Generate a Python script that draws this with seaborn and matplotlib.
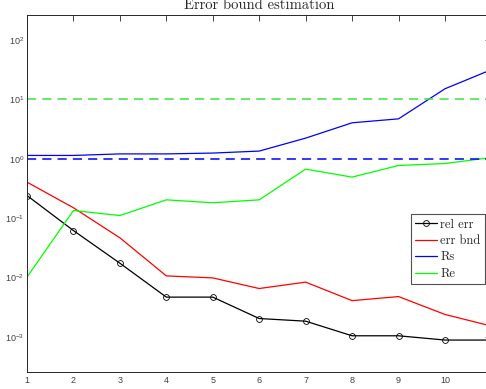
import numpy as np
import pandas as pd
import matplotlib
matplotlib.use("Agg")
import matplotlib.pyplot as plt
import seaborn as sns
from matplotlib.ticker import LogLocator, FixedLocator

# Iteration index and per-iteration quantities
iterations = [1, 2, 3, 4, 5, 6, 7, 8, 9, 10, 11]
rel_err = [0.241, 0.062, 0.0175, 0.0047, 0.0047, 0.00205, 0.00185, 0.00105, 0.00105, 0.00089, 0.00089]
err_bnd = [0.405, 0.15, 0.0468, 0.0107, 0.0099, 0.00656, 0.0084, 0.0041, 0.0048, 0.0024, 0.00153]
rs_vals = [1.14, 1.14, 1.21, 1.21, 1.25, 1.35, 2.23, 4.04, 4.71, 15.1, 31.7]
re_vals = [0.0102, 0.135, 0.111, 0.204, 0.182, 0.204, 0.671, 0.492, 0.772, 0.834, 1.05]

# Reference levels
rs_level = 1.0
re_level = 10.0

series_names = ["rel err", "err bnd", "Rs", "Re"]
series_colors = ["#000000", "#ff0000", "#0000ff", "#00ff00"]
x_ticks = [1, 2, 3, 4, 5, 6, 7, 8, 9, 10]

sns.set_style("white")
plt.rcParams["font.family"] = ["Liberation Sans", "DejaVu Sans"]
plt.rcParams["mathtext.fontset"] = "custom"
plt.rcParams["mathtext.rm"] = "Liberation Sans"

W, H = 486, 389
fig = plt.figure(figsize=(W / 100, H / 100), dpi=100)
ax = fig.add_axes([27 / W, 1 - 372 / H, (491.4 - 27) / W, (372 - 15) / H])

df = pd.DataFrame({
    "x": iterations * 4,
    "y": rel_err + err_bnd + rs_vals + re_vals,
    "series": sum([[n] * len(iterations) for n in series_names], []),
})

for name, color in zip(series_names, series_colors):
    sub = df[df["series"] == name]
    kw = dict(marker="o", markersize=4.2, markerfacecolor="none",
              markeredgecolor=color, markeredgewidth=0.6) if name == "rel err" else {}
    sns.lineplot(data=sub, x="x", y="y", ax=ax, color=color, linewidth=0.9,
                 label=name, **kw)

ax.axhline(rs_level, color="#0000ff", linestyle=(0, (6, 4)), linewidth=1.1)
ax.axhline(re_level, color="#40e040", linestyle=(0, (6, 4)), linewidth=1.1)

ax.set_yscale("log")
ax.set_xlim(1, 11)
ax.set_ylim(2.58e-4, 263.6)
ax.set_xlabel("")
ax.set_ylabel("")

ax.xaxis.set_major_locator(FixedLocator(x_ticks))
ax.yaxis.set_major_locator(FixedLocator([1e-3, 1e-2, 1e-1, 1e0, 1e1, 1e2]))
ax.yaxis.set_minor_locator(LogLocator(base=10, subs=np.arange(2, 10), numticks=20))
ax.set_yticklabels([r"$10^{-3}$", r"$10^{-2}$", r"$10^{-1}$", r"$10^{0}$", r"$10^{1}$", r"$10^{2}$"])

ax.tick_params(axis="both", which="both", direction="in", top=True, right=True,
               colors="#262626", labelcolor="#404040", labelsize=6.5, width=0.6)
ax.tick_params(axis="both", which="major", length=4)
ax.tick_params(axis="y", which="minor", length=2)
ax.tick_params(axis="x", which="major", pad=3)
ax.tick_params(axis="y", which="major", pad=2)

for s in ax.spines.values():
    s.set_color("#262626")
    s.set_linewidth(0.7)

ax.set_title("Error bound estimation", family="cmr10", fontsize=10.5, pad=4)

leg = ax.legend(loc="upper left", bbox_to_anchor=(411 / W, 1 - 214 / H),
                bbox_transform=fig.transFigure, borderaxespad=0, frameon=True,
                fancybox=False, prop={"family": "cmr10", "size": 9},
                handlelength=1.7, handletextpad=0.3, labelspacing=0.35,
                borderpad=0.35)
leg.get_frame().set_edgecolor("#262626")
leg.get_frame().set_linewidth(0.8)

fig.savefig("out.png", dpi=100)
